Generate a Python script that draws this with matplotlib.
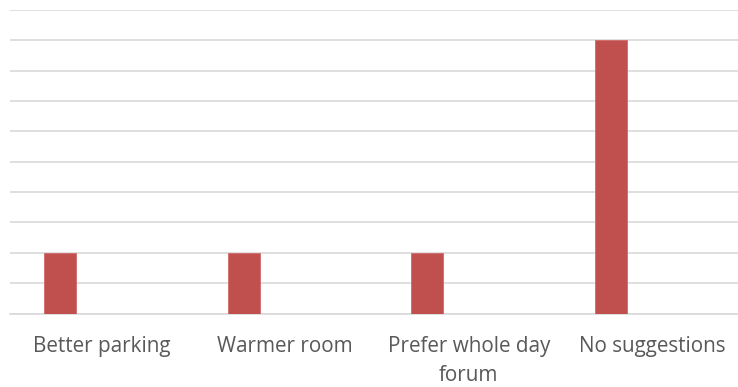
import matplotlib
matplotlib.use('Agg')
import matplotlib.pyplot as plt

categories = ['Better parking', 'Warmer room', 'Prefer whole day\nforum', 'No suggestions']
counts = [2, 2, 2, 9]

fig = plt.figure(figsize=(7.38, 3.87), dpi=100)
ax = fig.add_axes([10 / 738, (387 - 313.5) / 387, 734 / 738, 303.5 / 387])

x = list(range(len(categories)))
ax.bar([i - 0.226 for i in x], counts, width=0.174, color='#c0504d',
       edgecolor='#d06a67', linewidth=0.6, zorder=3)

ax.set_xlim(-0.5, 3.5)
ax.set_ylim(0, 10)
ax.set_yticks(range(0, 11))
ax.set_yticklabels([])
ax.grid(axis='y', color='#d9d9d9', linewidth=1.2, zorder=0)
ax.tick_params(axis='y', length=0)
ax.tick_params(axis='x', length=0, pad=16)
ax.set_xticks(x)
ax.set_xticklabels(categories, fontsize=14.9, color='#595959',
                   family='Open Sans', linespacing=1.5)
for s in ['top', 'right', 'left']:
    ax.spines[s].set_visible(False)
ax.spines['bottom'].set_color('#d9d9d9')
ax.spines['bottom'].set_linewidth(1.2)

fig.savefig('out.png', dpi=100)
